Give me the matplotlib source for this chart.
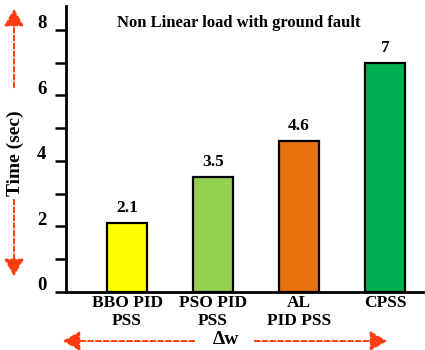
import matplotlib
matplotlib.use("Agg")
import matplotlib.pyplot as plt
from matplotlib.transforms import ScaledTranslation

categories = ["BBO PID\nPSS", "PSO PID\nPSS", "AL\nPID PSS", "CPSS"]
values = [2.1, 3.5, 4.6, 7]
value_labels = ["2.1", "3.5", "4.6", "7"]
colors = ["#FFFF00", "#92D050", "#E8710F", "#00B050"]
yticks = [0, 1, 2, 3, 4, 5, 6, 7, 8]
yticklabels = ["0", "", "2", "", "4", "", "6", "", "8"]
title = "Non Linear load with ground fault"

plt.rcParams['font.family'] = ['Liberation Serif', 'DejaVu Serif']
plt.rcParams['font.weight'] = 'bold'

W, H = 425, 350
fig = plt.figure(figsize=(W / 100, H / 100), dpi=100)
ax = fig.add_axes([66 / W, 1 - 292 / H, (423 - 66) / W, (292 - 6) / H])

x = list(range(len(categories)))
bars = ax.bar(x, values, width=0.46, color=colors, edgecolor="black", linewidth=1.6)
for xi, v, lab in zip(x, values, value_labels):
    ax.annotate(lab, (xi, v), xytext=(0, 5), textcoords="offset points",
                ha="center", va="bottom", fontsize=12.5, fontweight="bold")

ax.set_xlim(-0.71, 3.44)
ax.set_ylim(0, 8.73)
ax.set_yticks(yticks)
ax.set_yticklabels(yticklabels, fontsize=13.5, fontweight="bold")
ax.set_xticks(x)
ax.set_xticklabels(categories, fontsize=12.5, fontweight="bold", linespacing=1.15)
ax.tick_params(axis="y", direction="out", length=8, width=1.8, pad=6)
ax.tick_params(axis="x", length=0, pad=2)
for lbl in ax.get_yticklabels():
    lbl.set_transform(lbl.get_transform() + ScaledTranslation(0, 6 / 72, fig.dpi_scale_trans))
for s in ["top", "right"]:
    ax.spines[s].set_visible(False)
for s in ["left", "bottom"]:
    ax.spines[s].set_linewidth(2)

fig.text(239 / W, 1 - 23 / H, title, ha="center", va="center", fontsize=12, fontweight="bold")
fig.text(15 / W, 1 - 153 / H, "Time (sec)", ha="center", va="center", rotation=90,
         fontsize=14, fontweight="bold")
fig.text(226 / W, 1 - 340 / H, "Δw", ha="center", va="center", fontsize=14, fontweight="bold")

red = "#FF3B12"
def arrow(x0, y0, x1, y1):
    fig.add_artist(matplotlib.patches.FancyArrowPatch(
        (x0 / W, 1 - y0 / H), (x1 / W, 1 - y1 / H), transform=fig.transFigure,
        arrowstyle="-|>,head_length=7,head_width=4", color=red, linestyle=(0, (2.5, 1.5)),
        linewidth=1.4, mutation_scale=1.5))

arrow(14, 90, 14, 6)
arrow(14, 197, 14, 279)
arrow(197, 341, 60, 341)
arrow(252, 341, 390, 341)

fig.savefig("out.png", dpi=100)
